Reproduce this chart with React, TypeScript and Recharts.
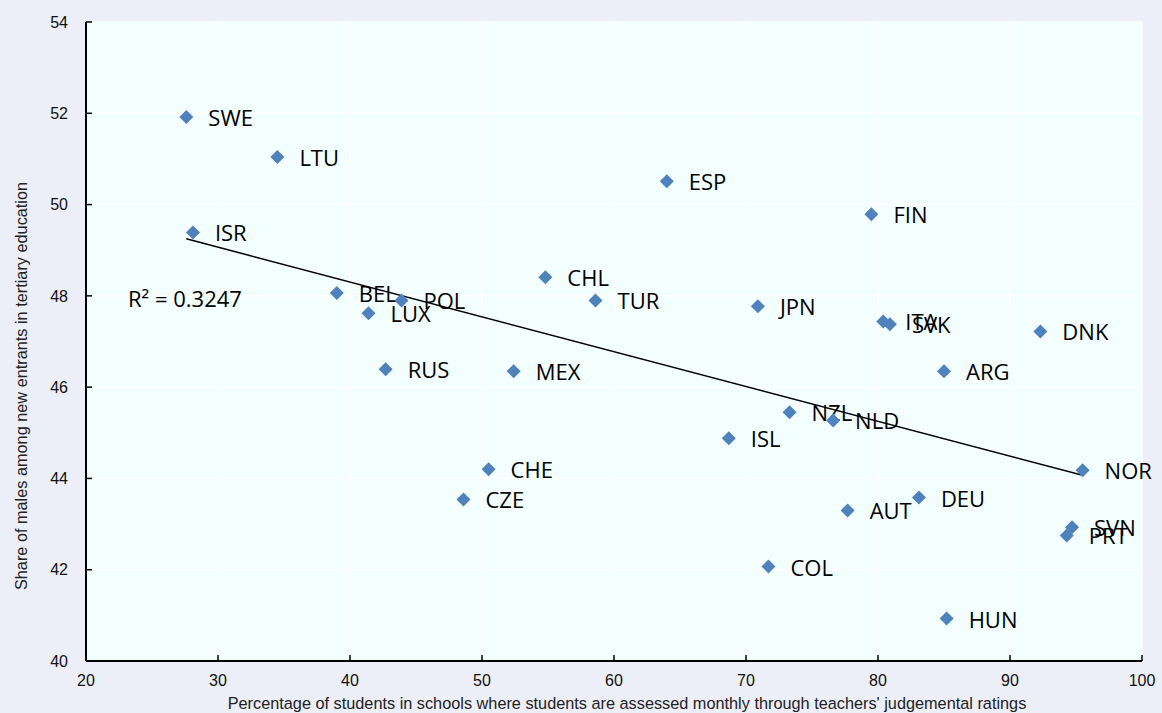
import { ScatterChart, Scatter, XAxis, YAxis, CartesianGrid, ReferenceLine } from 'recharts'

// countries, x = % students assessed monthly via teachers' judgemental ratings, y = share of males
const countries = ['SWE', 'LTU', 'ISR', 'ESP', 'FIN', 'CHL', 'BEL', 'POL', 'LUX', 'TUR', 'JPN', 'ITA', 'SVK', 'DNK', 'ARG', 'RUS', 'MEX', 'NZL', 'NLD', 'ISL', 'CHE', 'NOR', 'CZE', 'DEU', 'AUT', 'SVN', 'PRT', 'COL', 'HUN']
const assessedPct = [27.6, 34.5, 28.1, 64.0, 79.5, 54.8, 39.0, 43.9, 41.4, 58.6, 70.9, 80.4, 80.9, 92.3, 85.0, 42.7, 52.4, 73.3, 76.6, 68.7, 50.5, 95.5, 48.6, 83.1, 77.7, 94.7, 94.3, 71.7, 85.2]
const malesShare = [51.92, 51.04, 49.39, 50.51, 49.79, 48.41, 48.06, 47.9, 47.62, 47.9, 47.77, 47.44, 47.38, 47.22, 46.35, 46.39, 46.35, 45.45, 45.27, 44.88, 44.2, 44.18, 43.54, 43.58, 43.3, 42.93, 42.75, 42.07, 40.93]

const xTicks = [20, 30, 40, 50, 60, 70, 80, 90, 100]
const yTicks = [40, 42, 44, 46, 48, 50, 52, 54]

// linear trend endpoints
const trendX = [27.6, 95.5]
const trendY = [49.25, 44.07]

const points = countries.map((c, i) => ({ name: c, x: assessedPct[i], y: malesShare[i] }))

const labelFont = '"Open Sans", "Noto Sans", sans-serif'
const axisFont = '"Liberation Sans", Arial, sans-serif'

function Diamond(props: any) {
    const { cx, cy, payload } = props
    const r = 7
    return (
        <g>
            <path d={`M${cx},${cy - r}L${cx + r},${cy}L${cx},${cy + r}L${cx - r},${cy}Z`} fill="#4f81bd" />
            <text x={cx + 22} y={cy + 9} fontSize={22} fontFamily={labelFont} fill="#000">
                {payload.name}
            </text>
        </g>
    )
}

export default function App() {
    return (
        <div style={{ position: 'absolute', left: 0, top: 0, width: 1162, height: 713, background: '#eceef8' }}>
            <ScatterChart width={1162} height={713} margin={{ top: 22, right: 20, bottom: 0, left: 0 }}>
                <CartesianGrid stroke="#ffffff" strokeWidth={1.5} fill="#f3fefe" />
                <XAxis
                    type="number"
                    dataKey="x"
                    domain={[20, 100]}
                    ticks={xTicks}
                    height={52}
                    axisLine={{ stroke: '#000', strokeWidth: 2 }}
                    tickLine={{ stroke: '#000', strokeWidth: 1.5 }}
                    tickSize={-6}
                    tickMargin={20}
                    tick={{ fill: '#111', fontSize: 16, fontFamily: axisFont }}
                    label={{
                        content: () => (
                            <text x={627} y={709} textAnchor="middle" fontSize={16.3} fontFamily={axisFont} fill="#222">
                                Percentage of students in schools where students are assessed monthly through teachers' judgemental ratings
                            </text>
                        ),
                    }}
                />
                <XAxis xAxisId="top" orientation="top" type="number" dataKey="x" domain={[20, 100]} height={0} tick={false} tickLine={false} axisLine={{ stroke: '#222', strokeWidth: 2 }} />
                <YAxis
                    type="number"
                    dataKey="y"
                    domain={[40, 54]}
                    ticks={yTicks}
                    width={86}
                    axisLine={{ stroke: '#000', strokeWidth: 2 }}
                    tickLine={{ stroke: '#000', strokeWidth: 1.5 }}
                    tickSize={-6}
                    tickMargin={24}
                    tick={{ fill: '#111', fontSize: 16, fontFamily: axisFont }}
                    label={{
                        content: () => (
                            <text x={0} y={0} transform="translate(27,386) rotate(-90)" textAnchor="middle" fontSize={16.3} fontFamily={axisFont} fill="#222">
                                Share of males among new entrants in tertiary education
                            </text>
                        ),
                    }}
                />
                <YAxis yAxisId="right" orientation="right" type="number" domain={[40, 54]} width={0} tick={false} tickLine={false} axisLine={{ stroke: '#333', strokeWidth: 2 }} />
                <ReferenceLine
                    segment={[
                        { x: trendX[0], y: trendY[0] },
                        { x: trendX[1], y: trendY[1] },
                    ]}
                    stroke="#000"
                    strokeWidth={1.5}
                    ifOverflow="visible"
                />
                <Scatter data={points} shape={<Diamond />} isAnimationActive={false} />
            </ScatterChart>
            <div style={{ position: 'absolute', left: 128, top: 283, fontSize: 22, fontFamily: labelFont, color: '#000', lineHeight: '30px' }}>
                R² = 0.3247
            </div>
        </div>
    )
}
